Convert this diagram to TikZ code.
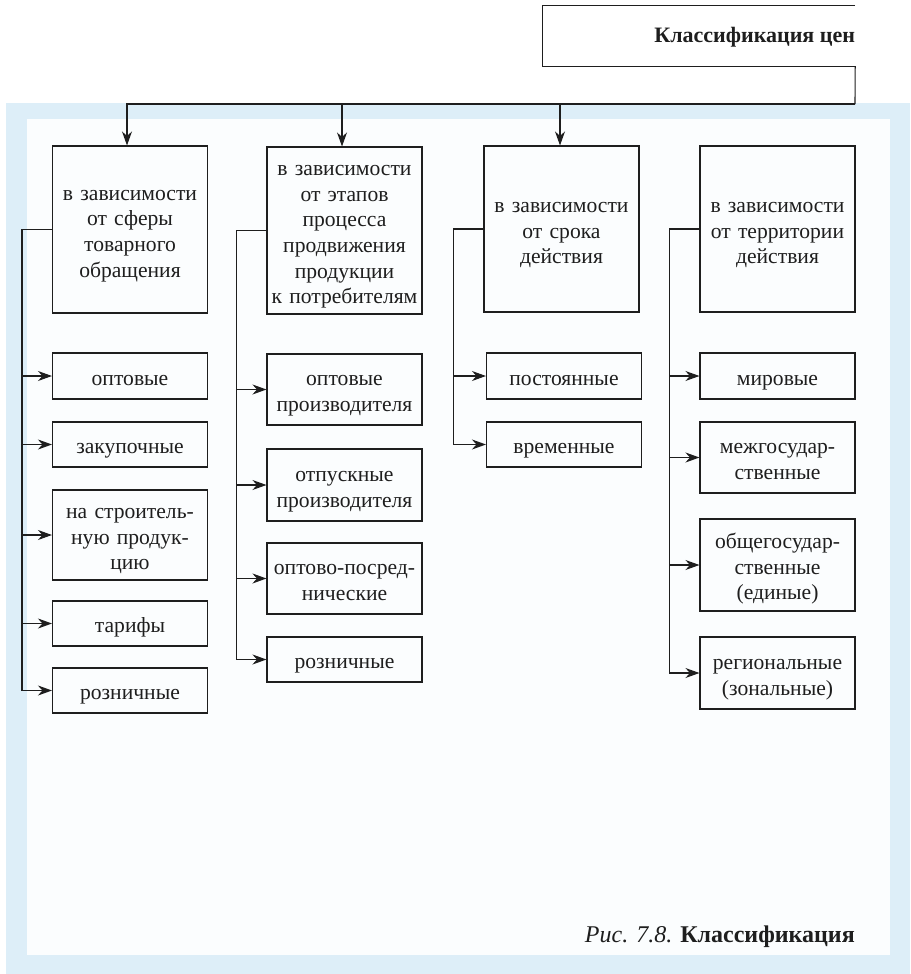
\documentclass[tikz,border=0pt]{standalone}
\usepackage{fontspec}
\setmainfont{Liberation Serif}
\usetikzlibrary{arrows.meta}
\definecolor{bgblue}{HTML}{DDEEF8}
\definecolor{inwhite}{HTML}{FBFDFE}
\definecolor{ink}{HTML}{1E1E1E}
\begin{document}
\begin{tikzpicture}[x=1pt,y=-1pt,
    every node/.style={font=\fontsize{21.6}{25.7}\selectfont, text=ink},
    cell/.style={draw=ink, line width=1.1pt, inner sep=0pt, align=center,
      text width=153pt, minimum width=155pt, minimum height=#1,
      execute at begin node=\rule{0pt}{26pt}, execute at end node=\strut},
    arr/.style={draw=ink, line width=1.1pt, -{Stealth[length=14pt,width=10pt,inset=4.5pt]}}]
      \useasboundingbox (0,0) rectangle (910,974);
      \fill[bgblue] (6,103) rectangle (910,974);
      \fill[inwhite] (27,119) rectangle (890,955);
      % top box, cut at the right
      \node[minimum width=312pt, minimum height=60pt, inner sep=0pt] (top) at (699,36) {};
      \draw[ink, line width=1.1pt] (top.north east) -- (top.north west) -- (top.south west) -- (top.south east);
      \node[anchor=east, inner sep=0pt, font=\fontsize{22}{26}\selectfont\bfseries] (title) at ([yshift=-1pt]top.east) {Классификация цен};
      \coordinate (busR) at (855,104);
      % headers
      \node[cell=167] (h1) at (130,229.5) {в зависимости\\от сферы\\товарного\\обращения};
      \node[cell=167] (h2) at (344.5,230.5) {в зависимости\\от этапов\\процесса\\продвижения\\продукции\\к потребителям};
      \node[cell=166] (h3) at (561.5,229) {в зависимости\\от срока\\действия};
      \node[cell=166] (h4) at (777.5,229) {в зависимости\\от территории\\действия};
      \draw[ink, line width=1.1pt] (top.south east) -- (busR);
      \draw[arr] (busR) -| ([xshift=-3pt]h1.north);
      \draw[arr] ([xshift=-2.5pt]h2.north |- busR) -- ([xshift=-2.5pt]h2.north);
      \draw[arr] ([xshift=-1.5pt]h3.north |- busR) -- ([xshift=-1.5pt]h3.north);
      % column 1
      \node[cell=46] (a1) at (130,376) {оптовые};
      \node[cell=45] (a2) at (130,444.5) {закупочные};
      \node[cell=90] (a3) at (130,535) {на строитель-\\ную продук-\\цию};
      \node[cell=45] (a4) at (130,623.5) {тарифы};
      \node[cell=45] (a5) at (130,690.5) {розничные};
      % column 2
      \node[cell=71] (b1) at (344.5,389.5) {оптовые\\производителя};
      \node[cell=72] (b2) at (344.5,485) {отпускные\\производителя};
      \node[cell=71] (b3) at (344.5,578.5) {оптово-посред-\\нические};
      \node[cell=45] (b4) at (344.5,659.5) {розничные};
      % column 3
      \node[cell=46] (c1) at (564,376) {постоянные};
      \node[cell=45] (c2) at (564,444.5) {временные};
      % column 4
      \node[cell=46] (d1) at (777.5,376) {мировые};
      \node[cell=71] (d2) at (777.5,457.5) {межгосудар-\\ственные};
      \node[cell=92] (d3) at (777.5,565) {общегосудар-\\ственные\\(единые)};
      \node[cell=72] (d4) at (777.5,673) {региональные\\(зональные)};
      \foreach \k in {a1,a2,a3,a4,a5} \draw[arr] (h1.west) -- ++(-30,0) |- (\k.west);
      \foreach \k in {b1,b2,b3,b4} \draw[arr] (h2.west) -- ++(-30,0) |- (\k.west);
      \foreach \k in {c1,c2} \draw[arr] (h3.west) -- ++(-30,0) |- (\k.west);
      \foreach \k in {d1,d2,d3,d4} \draw[arr] (h4.west) -- ++(-30,0) |- (\k.west);
      \node[anchor=east, inner sep=0pt, font=\fontsize{24}{28}\selectfont] (cap) at (855,937) {\textit{Рис. 7.8.} \textbf{Классификация}};
\end{tikzpicture}
\end{document}
